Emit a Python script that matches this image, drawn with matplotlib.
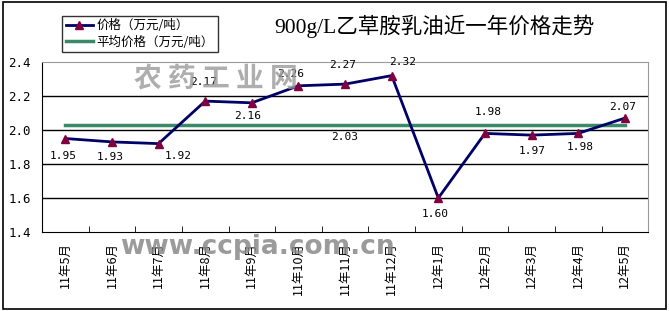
import matplotlib.pyplot as plt

plt.rcParams['font.family'] = ['Noto Sans CJK SC', 'DejaVu Sans']

# 数据
months = ['11年5月', '11年6月', '11年7月', '11年8月', '11年9月', '11年10月', '11年11月',
          '11年12月', '12年1月', '12年2月', '12年3月', '12年4月', '12年5月']
prices = [1.95, 1.93, 1.92, 2.17, 2.16, 2.26, 2.27, 2.32, 1.60, 1.98, 1.97, 1.98, 2.07]
avg_price = 2.03

# label offsets (pixels) for the data labels
label_dx = [-2, -2, 20, -2, -4, -8, -2, 11, -3, 3, 1, 2, -2]
label_dy = [-17, -15, -12, 19, -13, 12, 19, 14, -16, 21, -16, -14, 11]

fig = plt.figure(figsize=(6.69, 3.11), dpi=100)
ax = fig.add_axes([0.0628, 0.254, 0.906, 0.5466])

x = list(range(len(months)))
ax.plot(x, prices, color='#000066', lw=2, marker='^', ms=6,
        mfc='#800040', mec='#800040', label='价格（万元/吨）', zorder=3)
ax.plot([x[0], x[-1]], [avg_price, avg_price], color='#3a8a6a', lw=2.5,
        label='平均价格（万元/吨）', zorder=2)

for i, v in enumerate(prices):
    ax.annotate(f'{v:.2f}', (x[i], v), xytext=(label_dx[i], label_dy[i]),
                textcoords='offset pixels', ha='center', va='center',
                fontsize=8, family=['DejaVu Sans Mono'])
ax.annotate(f'{avg_price:.2f}', (6, avg_price), xytext=(0, -12),
            textcoords='offset pixels', ha='center', va='center',
            fontsize=8, family=['DejaVu Sans Mono'])

ax.set_xlim(-0.5, len(months) - 0.5)
ax.set_ylim(1.4, 2.4)
ax.set_yticks([1.4, 1.6, 1.8, 2.0, 2.2, 2.4])
ax.set_yticklabels(['1.4', '1.6', '1.8', '2.0', '2.2', '2.4'],
                   family=['DejaVu Sans Mono'], fontsize=9)
ax.tick_params(axis='y', length=0, pad=8)
ax.set_xticks(x)
ax.set_xticklabels(months, rotation=90, fontsize=9, va='top', ha='center')
ax.set_xticks([i + 0.5 for i in x[:-1]], minor=True)
ax.tick_params(axis='x', which='major', length=0, pad=7)
ax.tick_params(axis='x', which='minor', direction='in', length=4, color='black')
for yv in [1.6, 1.8, 2.0, 2.2]:
    ax.axhline(yv, color='black', lw=1, zorder=1)
ax.spines['left'].set_color('black')
ax.spines['bottom'].set_color('black')
ax.spines['top'].set_color('#999999')
ax.spines['right'].set_color('#999999')

fig.text(0.65, 0.915, '900g/L乙草胺乳油近一年价格走势', ha='center', va='center',
         fontsize=15.5, weight='medium', family=['Liberation Serif', 'Noto Sans CJK SC'])

leg = fig.legend(loc='upper left', bbox_to_anchor=(0.083, 0.97), fontsize=9,
                 frameon=True, fancybox=False, edgecolor='black', handlelength=2.2,
                 borderpad=0.3, labelspacing=0.25, handletextpad=0.3)
leg.get_frame().set_linewidth(1)

# watermarks
fig.text(0.322, 0.745, '农 药 工 业 网', ha='center', va='center', fontsize=20,
         color='#9a9a9a', alpha=0.8, weight='bold')
fig.text(0.385, 0.205, 'www.ccpia.com.cn', ha='center', va='center', fontsize=19,
         color='#8a8a8a', alpha=0.85, weight='bold', family=['DejaVu Sans'])

fig.patches.append(plt.Rectangle((0.004, 0.008), 0.991, 0.985, transform=fig.transFigure,
                                 fill=False, edgecolor='black', lw=1.2))

plt.savefig('out.png', dpi=100)
